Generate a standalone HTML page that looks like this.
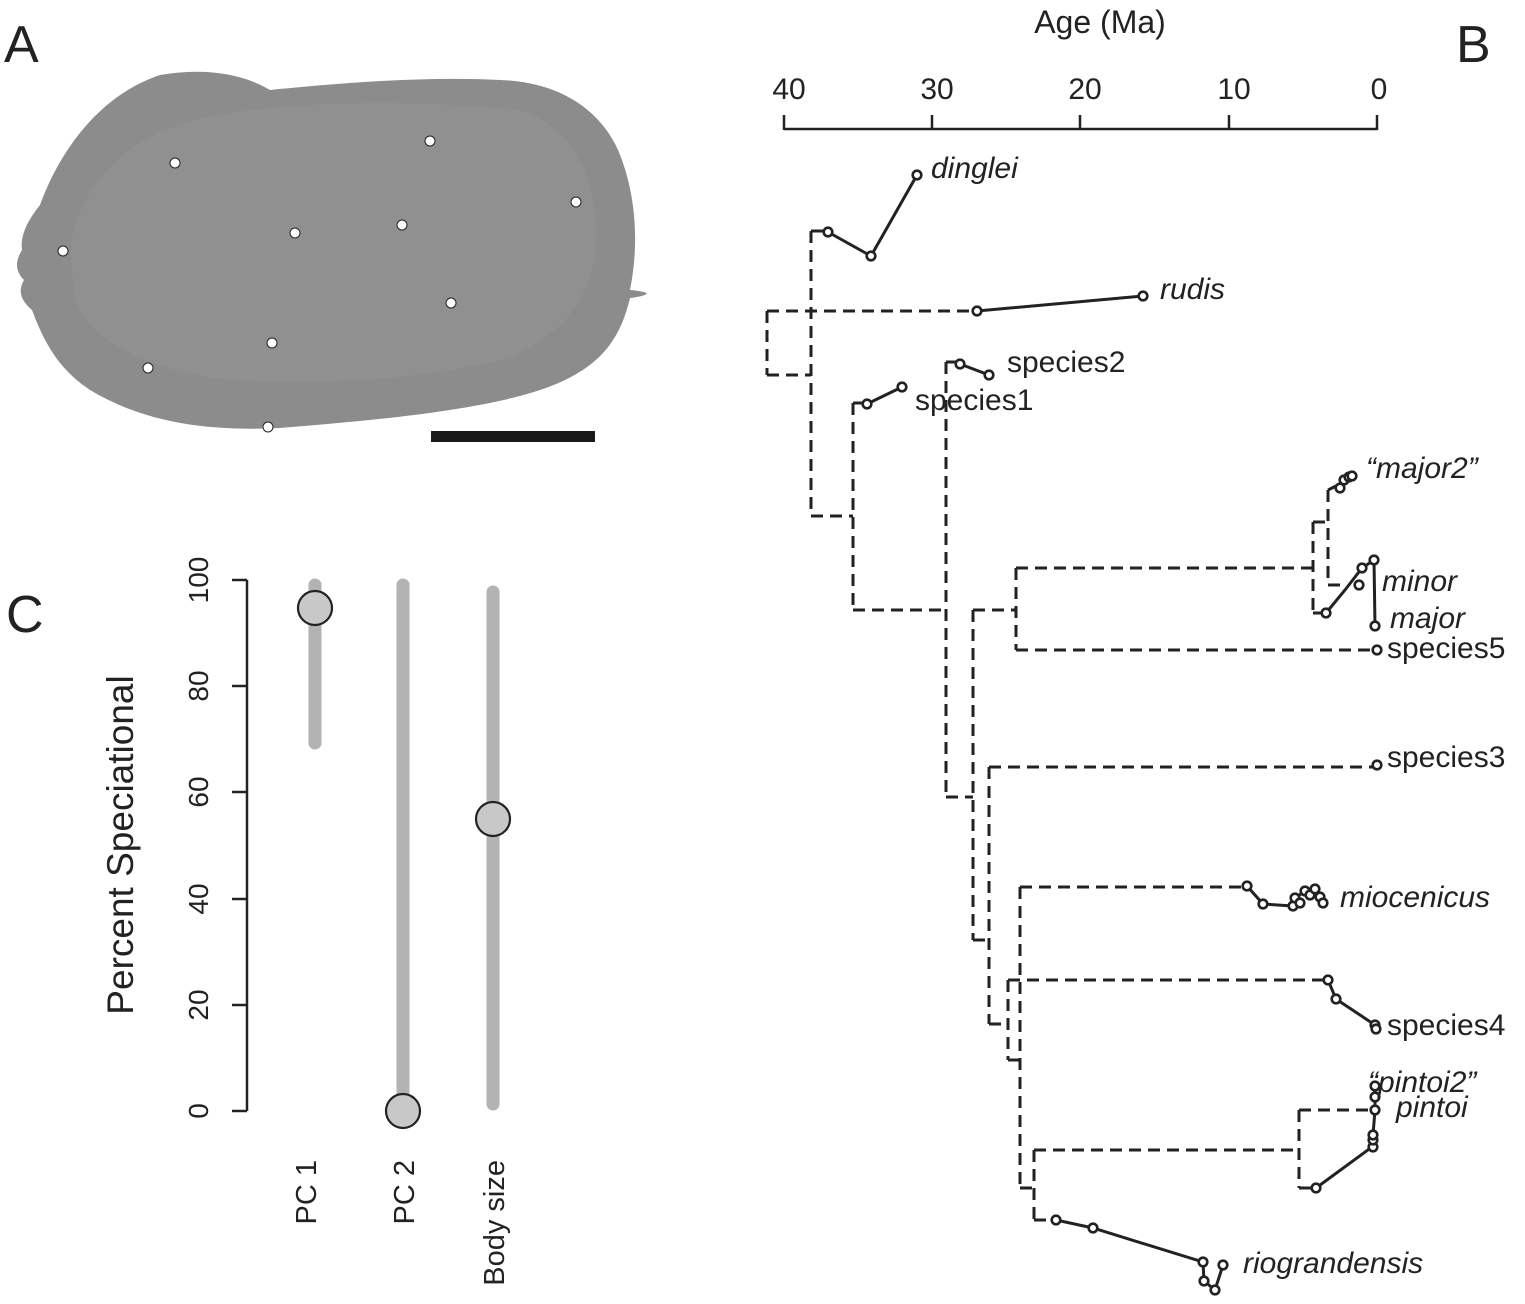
<!DOCTYPE html>
<html><head><meta charset="utf-8"><style>html,body{margin:0;padding:0;background:#fff}svg{display:block}</style></head><body>
<svg width="1525" height="1304" viewBox="0 0 1525 1304" xmlns="http://www.w3.org/2000/svg" font-family="Liberation Sans, Arial, sans-serif">
<rect width="1525" height="1304" fill="#fff"/>
<!-- Panel A -->
<path d="M40,205 C60,150 100,95 160,75 C200,68 240,72 270,90 C330,84 420,76 500,80 C560,82 600,110 618,150 C635,190 640,240 630,290 C652,292 652,295 630,298 C620,340 600,370 540,390 C480,410 380,420 280,428 C200,432 140,420 90,390 C60,370 45,345 32,310 C20,300 18,290 24,280 C14,270 16,260 22,250 C20,235 28,220 40,205 Z" fill="#8c8c8c"/>
<path d="M70,250 C80,180 130,130 220,115 C300,100 420,100 520,110 C580,130 600,190 595,250 C590,300 560,340 500,360 C420,380 320,385 230,380 C150,372 90,340 75,300 Z" fill="#909090"/>
<g fill="#fff" stroke="#222" stroke-width="1">
<circle cx="175" cy="163" r="5"/><circle cx="430" cy="141" r="5"/><circle cx="576" cy="202" r="5"/><circle cx="402" cy="225" r="5"/><circle cx="295" cy="233" r="5"/><circle cx="63" cy="251" r="5"/><circle cx="451" cy="303" r="5"/><circle cx="272" cy="343" r="5"/><circle cx="148" cy="368" r="5"/><circle cx="268" cy="427" r="5"/>
</g>
<rect x="431" y="431" width="164" height="11" fill="#1a1a1a"/>
<text x="4" y="62" font-size="52" fill="#222">A</text>
<text x="1456" y="62" font-size="52" fill="#222">B</text>
<text x="6" y="632" font-size="52" fill="#222">C</text>
<!-- Axis B -->
<text x="1100" y="33" font-size="32" text-anchor="middle" fill="#222">Age (Ma)</text>
<g stroke="#222" stroke-width="2.5" fill="none">
<line x1="784" y1="129" x2="1377" y2="129"/>
<line x1="784" y1="115" x2="784" y2="130"/><line x1="932" y1="115" x2="932" y2="130"/><line x1="1080" y1="115" x2="1080" y2="130"/><line x1="1229" y1="115" x2="1229" y2="130"/><line x1="1377" y1="115" x2="1377" y2="130"/>
</g>
<g font-size="30" text-anchor="middle" fill="#222">
<text x="789" y="99">40</text><text x="937" y="99">30</text><text x="1085" y="99">20</text><text x="1234" y="99">10</text><text x="1379" y="99">0</text>
</g>
<!-- Tree dashed -->
<g stroke="#222" stroke-width="3" fill="none" stroke-dasharray="12,7">
<path d="M767,311 V375"/><path d="M767,311 H977"/><path d="M767,375 H811"/>
<path d="M811,231 V516"/><path d="M811,231 H828"/>
<path d="M811,516 H853"/><path d="M853,403 V610"/><path d="M853,403 H867"/>
<path d="M853,610 H946"/><path d="M946,362 V797"/><path d="M946,362 H960"/>
<path d="M946,797 H973"/><path d="M973,610 V940"/><path d="M973,610 H1016"/>
<path d="M1016,568 V650"/><path d="M1016,568 H1313"/><path d="M1016,650 H1377"/>
<path d="M1313,522 V613"/><path d="M1313,522 H1328"/><path d="M1313,613 H1326"/>
<path d="M1328,490 V585"/><path d="M1328,585 H1340"/>
<path d="M973,940 H989"/><path d="M989,767 V1024"/><path d="M989,767 H1377"/>
<path d="M989,1024 H1008"/><path d="M1008,980 V1060"/><path d="M1008,980 H1328"/>
<path d="M1008,1060 H1020"/><path d="M1020,887 V1188"/><path d="M1020,887 H1247"/>
<path d="M1020,1188 H1034"/><path d="M1034,1150 V1220"/><path d="M1034,1150 H1299"/><path d="M1034,1220 H1056"/>
<path d="M1299,1110 V1188"/><path d="M1299,1110 H1377"/><path d="M1299,1188 H1316"/>
</g>
<!-- solid lineages -->
<g stroke="#222" stroke-width="3" fill="none">
<polyline points="828,232 871,256 917,175"/>
<polyline points="977,311 1143,296"/>
<polyline points="867,404 902,387"/>
<polyline points="960,364 989,375"/>
<polyline points="1328,490 1340,484 1344,479 1349,477 1352,476"/>
<polyline points="1326,613 1345,590 1362,568 1374,560 1375,626"/>
<polyline points="1247,886 1263,904 1293,906 1295,898 1305,891 1315,889 1320,897 1323,903"/>
<polyline points="1328,980 1336,999 1375,1025 1376,1027"/>
<polyline points="1316,1188 1372,1147 1373,1135 1375,1110 1375,1097 1375,1086"/>
<polyline points="1056,1220 1093,1228 1203,1262 1204,1281 1215,1290 1223,1265"/>
</g>
<g stroke="#222" stroke-width="2.6" fill="#fff">
<circle cx="828" cy="232" r="4.3"/><circle cx="871" cy="256" r="4.3"/><circle cx="917" cy="175" r="4.3"/>
<circle cx="977" cy="311" r="4.3"/><circle cx="1143" cy="296" r="4.3"/>
<circle cx="867" cy="404" r="4.3"/><circle cx="902" cy="387" r="4.3"/>
<circle cx="960" cy="364" r="4.3"/><circle cx="989" cy="375" r="4.3"/>
<circle cx="1340" cy="488" r="4.3"/><circle cx="1344" cy="480" r="4.3"/><circle cx="1349" cy="477" r="4.3"/><circle cx="1352" cy="476" r="4.3"/>
<circle cx="1326" cy="613" r="4.3"/><circle cx="1359" cy="585" r="4.3"/><circle cx="1362" cy="568" r="4.3"/><circle cx="1374" cy="560" r="4.3"/><circle cx="1375" cy="626" r="4.3"/>
<circle cx="1377" cy="650" r="4.3"/><circle cx="1377" cy="765" r="4.3"/>
<circle cx="1247" cy="886" r="4.3"/><circle cx="1263" cy="904" r="4.3"/><circle cx="1293" cy="906" r="4.3"/><circle cx="1295" cy="898" r="4.3"/><circle cx="1305" cy="891" r="4.3"/><circle cx="1310" cy="895" r="4.3"/><circle cx="1315" cy="889" r="4.3"/><circle cx="1320" cy="897" r="4.3"/><circle cx="1323" cy="903" r="4.3"/><circle cx="1300" cy="903" r="4.3"/>
<circle cx="1328" cy="980" r="4.3"/><circle cx="1336" cy="999" r="4.3"/><circle cx="1375" cy="1025" r="4.3"/><circle cx="1376" cy="1029" r="4.3"/>
<circle cx="1316" cy="1188" r="4.3"/><circle cx="1373" cy="1147" r="4.3"/><circle cx="1373" cy="1140" r="4.3"/><circle cx="1373" cy="1135" r="4.3"/><circle cx="1375" cy="1110" r="4.3"/><circle cx="1375" cy="1097" r="4.3"/><circle cx="1375" cy="1086" r="4.3"/>
<circle cx="1056" cy="1220" r="4.3"/><circle cx="1093" cy="1228" r="4.3"/><circle cx="1203" cy="1262" r="4.3"/><circle cx="1204" cy="1281" r="4.3"/><circle cx="1215" cy="1290" r="4.3"/><circle cx="1223" cy="1265" r="4.3"/>
</g>
<g font-size="30" fill="#222" dominant-baseline="middle">
<text x="931" y="170" font-style="italic">dinglei</text>
<text x="1160" y="291" font-style="italic">rudis</text>
<text x="1007" y="364">species2</text>
<text x="915" y="402">species1</text>
<text x="1366" y="470" font-style="italic">“major2”</text>
<text x="1382" y="583" font-style="italic">minor</text>
<text x="1390" y="620" font-style="italic">major</text>
<text x="1387" y="650">species5</text>
<text x="1387" y="759">species3</text>
<text x="1340" y="899" font-style="italic">miocenicus</text>
<text x="1387" y="1027">species4</text>
<text x="1368" y="1084" font-style="italic">“pintoi2”</text>
<text x="1396" y="1109" font-style="italic">pintoi</text>
<text x="1243" y="1265" font-style="italic">riograndensis</text>
</g>
<!-- Panel C -->
<g stroke="#222" stroke-width="2.5">
<line x1="247" y1="580" x2="247" y2="1111"/>
<line x1="232" y1="580" x2="247" y2="580"/><line x1="232" y1="686" x2="247" y2="686"/><line x1="232" y1="792" x2="247" y2="792"/><line x1="232" y1="899" x2="247" y2="899"/><line x1="232" y1="1005" x2="247" y2="1005"/><line x1="232" y1="1111" x2="247" y2="1111"/>
</g>
<g font-size="28" fill="#222" text-anchor="middle">
<text transform="translate(208,580) rotate(-90)">100</text>
<text transform="translate(208,686) rotate(-90)">80</text>
<text transform="translate(208,792) rotate(-90)">60</text>
<text transform="translate(208,899) rotate(-90)">40</text>
<text transform="translate(208,1005) rotate(-90)">20</text>
<text transform="translate(208,1111) rotate(-90)">0</text>
</g>
<text transform="translate(133,845) rotate(-90)" font-size="37" fill="#222" text-anchor="middle">Percent Speciational</text>
<g stroke="#b3b3b3" stroke-width="13" stroke-linecap="round">
<line x1="315" y1="585" x2="315" y2="743"/>
<line x1="403" y1="585" x2="403" y2="1108"/>
<line x1="493" y1="592" x2="493" y2="1104"/>
</g>
<g fill="#c8c8c8" stroke="#222" stroke-width="2.2">
<circle cx="315" cy="608" r="17"/><circle cx="403" cy="1111" r="17"/><circle cx="493" cy="819" r="17"/>
</g>
<g font-size="29" fill="#222" text-anchor="end">
<text transform="translate(316,1160) rotate(-90)">PC 1</text>
<text transform="translate(414,1160) rotate(-90)">PC 2</text>
<text transform="translate(504,1160) rotate(-90)">Body size</text>
</g>
</svg>
</body></html>
